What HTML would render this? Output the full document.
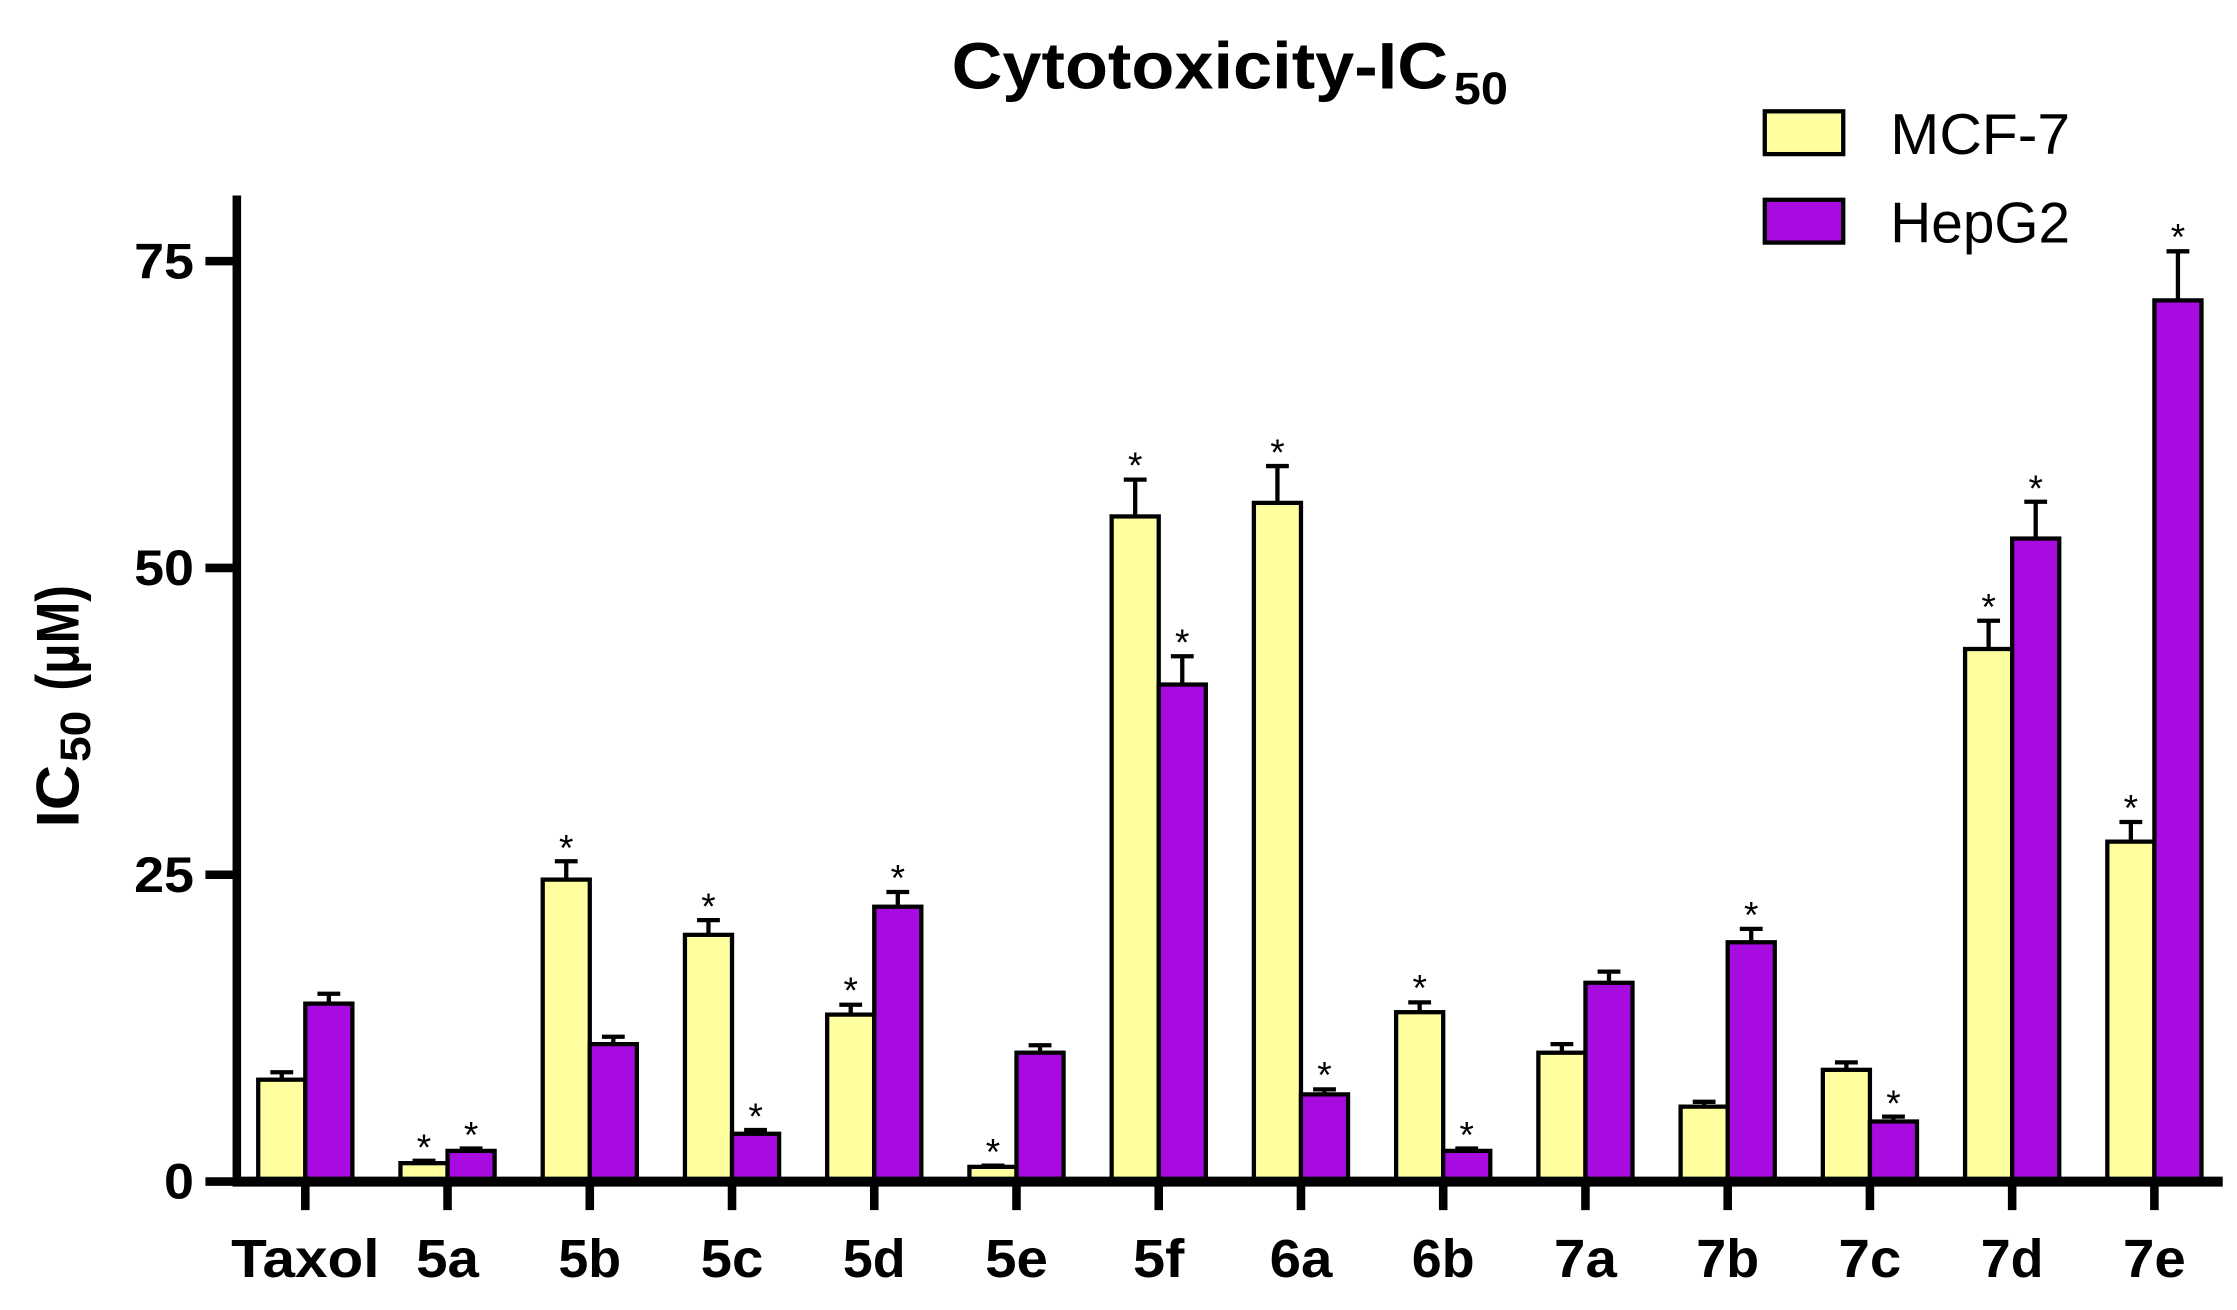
<!DOCTYPE html>
<html><head><meta charset="utf-8"><style>html,body{margin:0;padding:0;background:#fff}svg{display:block}</style></head>
<body>
<svg width="2237" height="1310" viewBox="0 0 1568 918" preserveAspectRatio="none" xmlns="http://www.w3.org/2000/svg" font-family="Liberation Sans, Arial, sans-serif">
<rect width="1568" height="918" fill="#fff"/>
<text x="667" y="62" font-size="46" font-weight="bold" textLength="348" lengthAdjust="spacingAndGlyphs">Cytotoxicity-IC</text>
<text x="1019" y="73" font-size="32" font-weight="bold" textLength="38" lengthAdjust="spacingAndGlyphs">50</text>
<rect x="1237" y="78" width="55" height="30" fill="#FFFFA0" stroke="#000" stroke-width="3"/>
<rect x="1237" y="140" width="55" height="30" fill="#A80BDF" stroke="#000" stroke-width="3"/>
<text x="1325" y="108" font-size="40" textLength="126" lengthAdjust="spacingAndGlyphs">MCF-7</text>
<text x="1325" y="170" font-size="40" textLength="126" lengthAdjust="spacingAndGlyphs">HepG2</text>
<g transform="translate(55,580) rotate(-90)" font-weight="bold">
<text x="0" y="0" font-size="42" textLength="44" lengthAdjust="spacingAndGlyphs">IC</text>
<text x="46" y="8" font-size="30" textLength="36" lengthAdjust="spacingAndGlyphs">50</text>
<text x="96" y="0" font-size="42" textLength="74" lengthAdjust="spacingAndGlyphs">(μM)</text>
</g>
<g font-size="35" font-weight="bold" text-anchor="end">
<text x="136" y="195" textLength="42" lengthAdjust="spacingAndGlyphs">75</text><text x="136" y="410" textLength="42" lengthAdjust="spacingAndGlyphs">50</text><text x="136" y="625" textLength="42" lengthAdjust="spacingAndGlyphs">25</text><text x="136" y="840" textLength="21" lengthAdjust="spacingAndGlyphs">0</text>
</g>
<g stroke="#000" stroke-width="6">
<line x1="166" y1="137" x2="166" y2="831"/>
<line x1="144" y1="183" x2="166" y2="183"/><line x1="144" y1="398" x2="166" y2="398"/><line x1="144" y1="613" x2="166" y2="613"/><line x1="144" y1="828" x2="166" y2="828"/>
</g>
<g stroke="#000" stroke-width="3">
<path d="M197.5 756.6V751.4M189.5 751.4h16M230.5 703.3V696.4M222.5 696.4h16
M297.2 815.1V813.4M289.2 813.4h16M330.2 806.5V804.8M322.2 804.8h16
M396.9 616.4V603.5M388.9 603.5h16M429.9 731.7V726.5M421.9 726.5h16
M496.6 655.1V644.8M488.6 644.8h16M529.6 794.5V791.9M521.6 791.9h16
M596.3 711V704.1M588.3 704.1h16M629.3 635.4V625.1M621.3 625.1h16
M696 817.7V816.8M688 816.8h16M729 737.7V732.5M721 732.5h16
M795.7 361.9V336.1M787.7 336.1h16M828.7 479.7V459.9M820.7 459.9h16
M895.4 352.4V326.6M887.4 326.6h16M928.4 766.9V763.4M920.4 763.4h16
M995.1 709.3V702.4M987.1 702.4h16M1028.1 806.5V804.8M1020.1 804.8h16
M1094.8 737.7V731.7M1086.8 731.7h16M1127.8 688.7V680.9M1119.8 680.9h16
M1194.5 775.5V772.1M1186.5 772.1h16M1227.5 660.3V650.9M1219.5 650.9h16
M1294.2 749.7V744.5M1286.2 744.5h16M1327.2 785.9V782.5M1319.2 782.5h16
M1393.9 454.8V435M1385.9 435h16M1426.9 377.4V351.6M1418.9 351.6h16
M1493.6 589.8V576M1485.6 576h16M1526.6 210.5V176.1M1518.6 176.1h16"/>
<g fill="#FFFFA0">
<rect x="181" y="756.6" width="33" height="71.4"/>
<rect x="280.7" y="815.1" width="33" height="12.9"/>
<rect x="380.4" y="616.4" width="33" height="211.6"/>
<rect x="480.1" y="655.1" width="33" height="172.9"/>
<rect x="579.8" y="711" width="33" height="117"/>
<rect x="679.5" y="817.7" width="33" height="10.3"/>
<rect x="779.2" y="361.9" width="33" height="466.1"/>
<rect x="878.9" y="352.4" width="33" height="475.6"/>
<rect x="978.6" y="709.3" width="33" height="118.7"/>
<rect x="1078.3" y="737.7" width="33" height="90.3"/>
<rect x="1178" y="775.5" width="33" height="52.5"/>
<rect x="1277.7" y="749.7" width="33" height="78.3"/>
<rect x="1377.4" y="454.8" width="33" height="373.2"/>
<rect x="1477.1" y="589.8" width="33" height="238.2"/>
</g>
<g fill="#A80BDF">
<rect x="214" y="703.3" width="33" height="124.7"/>
<rect x="313.7" y="806.5" width="33" height="21.5"/>
<rect x="413.4" y="731.7" width="33" height="96.3"/>
<rect x="513.1" y="794.5" width="33" height="33.5"/>
<rect x="612.8" y="635.4" width="33" height="192.6"/>
<rect x="712.5" y="737.7" width="33" height="90.3"/>
<rect x="812.2" y="479.7" width="33" height="348.3"/>
<rect x="911.9" y="766.9" width="33" height="61.1"/>
<rect x="1011.6" y="806.5" width="33" height="21.5"/>
<rect x="1111.3" y="688.7" width="33" height="139.3"/>
<rect x="1211" y="660.3" width="33" height="167.7"/>
<rect x="1310.7" y="785.9" width="33" height="42.1"/>
<rect x="1410.4" y="377.4" width="33" height="450.6"/>
<rect x="1510.1" y="210.5" width="33" height="617.5"/>
</g>
</g>
<g stroke="#000" stroke-width="7">
<line x1="163" y1="828" x2="1558" y2="828"/>
<path d="M214 828v20M313.7 828v20M413.4 828v20M513.1 828v20M612.8 828v20M712.5 828v20M812.2 828v20M911.9 828v20M1011.6 828v20M1111.3 828v20M1211 828v20M1310.7 828v20M1410.4 828v20M1510.1 828v20" stroke-width="6"/>
</g>
<g font-size="26" text-anchor="middle">
<text x="297.2" y="813">*</text><text x="330.2" y="804">*</text>
<text x="396.9" y="603">*</text>
<text x="496.6" y="644">*</text><text x="529.6" y="791">*</text>
<text x="596.3" y="703">*</text><text x="629.3" y="624">*</text>
<text x="696" y="816">*</text>
<text x="795.7" y="335">*</text><text x="828.7" y="459">*</text>
<text x="895.4" y="326">*</text><text x="928.4" y="762">*</text>
<text x="995.1" y="701">*</text><text x="1028.1" y="804">*</text>
<text x="1227.5" y="650">*</text>
<text x="1327.2" y="782">*</text>
<text x="1393.9" y="434">*</text><text x="1426.9" y="351">*</text>
<text x="1493.6" y="575">*</text><text x="1526.6" y="175">*</text>
</g>
<g font-size="38" font-weight="bold" text-anchor="middle">
<text x="214" y="895" textLength="104" lengthAdjust="spacingAndGlyphs">Taxol</text><text x="313.7" y="895" textLength="44" lengthAdjust="spacingAndGlyphs">5a</text><text x="413.4" y="895" textLength="44" lengthAdjust="spacingAndGlyphs">5b</text><text x="513.1" y="895" textLength="44" lengthAdjust="spacingAndGlyphs">5c</text><text x="612.8" y="895" textLength="44" lengthAdjust="spacingAndGlyphs">5d</text><text x="712.5" y="895" textLength="44" lengthAdjust="spacingAndGlyphs">5e</text><text x="812.2" y="895" textLength="36" lengthAdjust="spacingAndGlyphs">5f</text><text x="911.9" y="895" textLength="44" lengthAdjust="spacingAndGlyphs">6a</text><text x="1011.6" y="895" textLength="44" lengthAdjust="spacingAndGlyphs">6b</text><text x="1111.3" y="895" textLength="44" lengthAdjust="spacingAndGlyphs">7a</text><text x="1211" y="895" textLength="44" lengthAdjust="spacingAndGlyphs">7b</text><text x="1310.7" y="895" textLength="44" lengthAdjust="spacingAndGlyphs">7c</text><text x="1410.4" y="895" textLength="44" lengthAdjust="spacingAndGlyphs">7d</text><text x="1510.1" y="895" textLength="44" lengthAdjust="spacingAndGlyphs">7e</text>
</g>
</svg>
</body></html>
